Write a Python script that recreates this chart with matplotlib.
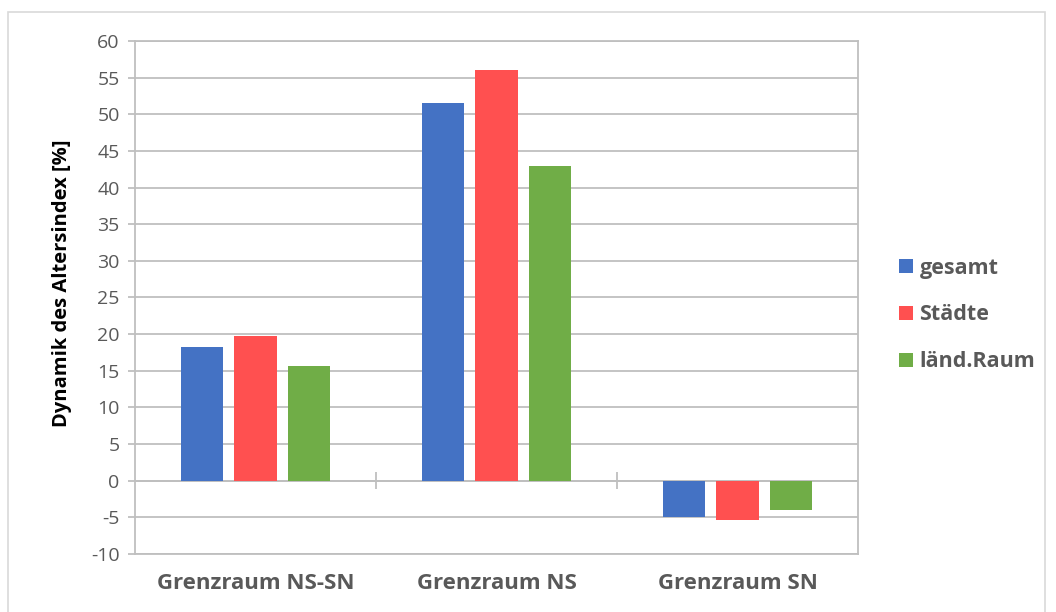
import matplotlib.pyplot as plt
import matplotlib.patches as patches
import numpy as np

plt.rcParams['font.family'] = ['Open Sans', 'DejaVu Sans']
plt.rcParams['axes.unicode_minus'] = False

categories = ['Grenzraum NS-SN', 'Grenzraum NS', 'Grenzraum SN']
series = ['gesamt', 'Städte', 'länd.Raum']
gesamt = [18.2, 51.6, -4.9]
staedte = [19.7, 56.1, -5.3]
laend = [15.6, 43.0, -4.0]
colors = ['#4472C4', '#FF5050', '#70AD47']

text_col = '#595959'
grid_col = '#BFBFBF'

fig = plt.figure(figsize=(10.56, 6.12), dpi=100)
ax = fig.add_axes([0.1278, 0.0948, 0.6847, 0.8382])

# light border round the chart
fig.patches.append(patches.Rectangle((8 / 1056, -0.01), 1037 / 1056, 1 - 12 / 612 + 0.01,
                                     transform=fig.transFigure, fill=False,
                                     edgecolor='#D9D9D9', linewidth=1.2))

x = np.arange(len(categories))
w = 0.175
step = 0.222
for i, (vals, name) in enumerate(zip([gesamt, staedte, laend], series)):
    ax.bar(x + (i - 1) * step, vals, w, color=colors[i], label=name, zorder=3)

ax.set_xlim(-0.5, 2.5)
ax.set_ylim(-10, 60)
ax.set_yticks(range(-10, 61, 5))
ax.yaxis.grid(True, color=grid_col, linewidth=1.3, zorder=0)
ax.axhline(0, color=grid_col, linewidth=1.3, zorder=2)
ax.vlines([0.5, 1.5], -1.2, 1.2, color=grid_col, linewidth=1.3, zorder=2)

for s in ax.spines.values():
    s.set_color(grid_col)
    s.set_linewidth(1.3)

ax.set_xticks(x)
ax.set_xticklabels(categories, fontsize=16, fontweight='bold', color=text_col)
ax.tick_params(axis='x', length=0, pad=14)
ax.tick_params(axis='y', labelsize=14, labelcolor=text_col, color=grid_col, length=5, width=1.3, pad=6)

ax.set_ylabel('Dynamik des Altersindex [%]', fontsize=14.5, fontweight='bold', color='black')
ax.yaxis.set_label_coords(-0.087, 0.528)

leg = ax.legend(loc='center left', bbox_to_anchor=(1.03, 0.466), frameon=False,
                prop={'size': 15.5, 'weight': 'bold'}, handlelength=0.65, handleheight=0.65,
                handletextpad=0.3, labelspacing=1.2)
for t in leg.get_texts():
    t.set_color(text_col)

fig.savefig('out.png', dpi=100)
